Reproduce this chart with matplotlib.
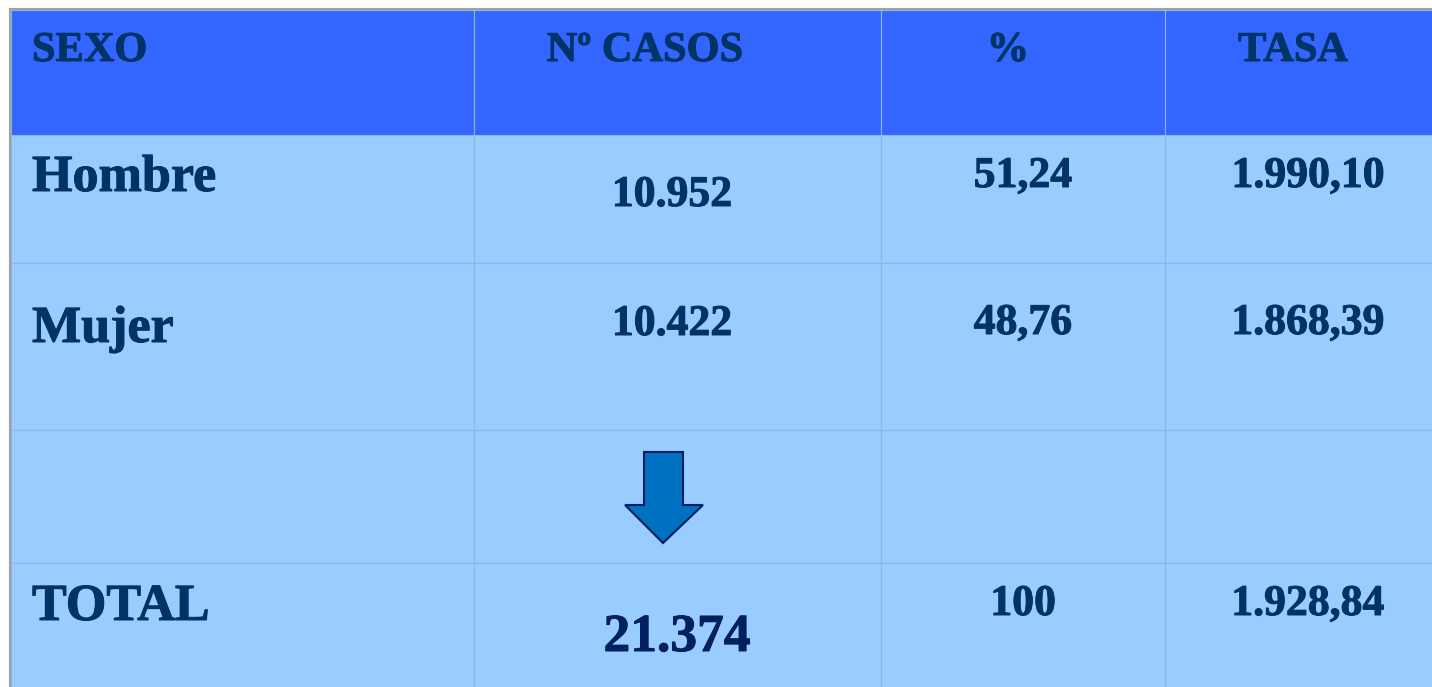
import matplotlib.pyplot as plt
import matplotlib.patheffects as pe
from matplotlib.patches import Rectangle, Polygon

headers = ['SEXO', 'Nº CASOS', '%', 'TASA']
sexo = ['Hombre', 'Mujer', '', 'TOTAL']
casos = ['10.952', '10.422', '', '21.374']
porcentaje = ['51,24', '48,76', '', '100']
tasa = ['1.990,10', '1.868,39', '', '1.928,84']

# layout in pixels
W, H = 1432, 687
col_edges = [11, 474, 881, 1165, 1440]
row_edges = [10, 135, 263, 430, 563, 700]

fig = plt.figure(figsize=(W / 100, H / 100), dpi=100)
ax = fig.add_axes([0, 0, 1, 1])
ax.set_xlim(0, W)
ax.set_ylim(H, 0)
ax.axis('off')

header_col = '#3366FF'
body_col = '#99CCFF'
text_col = '#003366'
grid_col = '#8DB6E6'

for r in range(len(row_edges) - 1):
    for c in range(len(col_edges) - 1):
        x0, x1 = col_edges[c], col_edges[c + 1]
        y0, y1 = row_edges[r], row_edges[r + 1]
        fc = header_col if r == 0 else body_col
        ax.add_patch(Rectangle((x0, y0), x1 - x0, y1 - y0, facecolor=fc,
                               edgecolor=grid_col, linewidth=0.8))

# outer gray border (left and top)
ax.plot([10, 10], [9, H], color='#A0A0A0', lw=1.5)
ax.plot([10, W], [9, 9], color='#A0A0A0', lw=1.5)

font = 'Liberation Serif'


def put(x, y, s, size, color=text_col, ha='center'):
    t = ax.text(x, y, s, ha=ha, va='baseline', fontsize=size,
                fontweight='bold', family=font, color=color)
    # a touch heavier, like the original
    t.set_path_effects([pe.withStroke(linewidth=0.7, foreground=color)])


# header
hx = [32, 645, 1008, 1293]
for i, h in enumerate(headers):
    put(hx[i], 61, h, 30.5, ha='left' if i == 0 else 'center')

# baselines per row: sexo, casos, % / tasa
base_sexo = [191, 342, None, 620]
base_casos = [206, 335, None, 651]
base_rest = [187, 334, None, 615]
for r in range(4):
    if not sexo[r]:
        continue
    big = sexo[r] == 'TOTAL'
    put(32, base_sexo[r], sexo[r], 37.5, ha='left')
    put(677 if big else 672, base_casos[r], casos[r],
        38.5 if big else 31.5, color='#002060' if big else text_col)
    put(1023, base_rest[r], porcentaje[r], 31.5)
    put(1308, base_rest[r], tasa[r], 31.5)

# down arrow
arrow = [(644, 452), (683, 452), (683, 505), (703, 505), (663, 543),
         (625, 505), (644, 505)]
ax.add_patch(Polygon(arrow, closed=True, facecolor='#0070C0',
                     edgecolor='#002060', linewidth=1.5))

fig.savefig('out.png', dpi=100)
